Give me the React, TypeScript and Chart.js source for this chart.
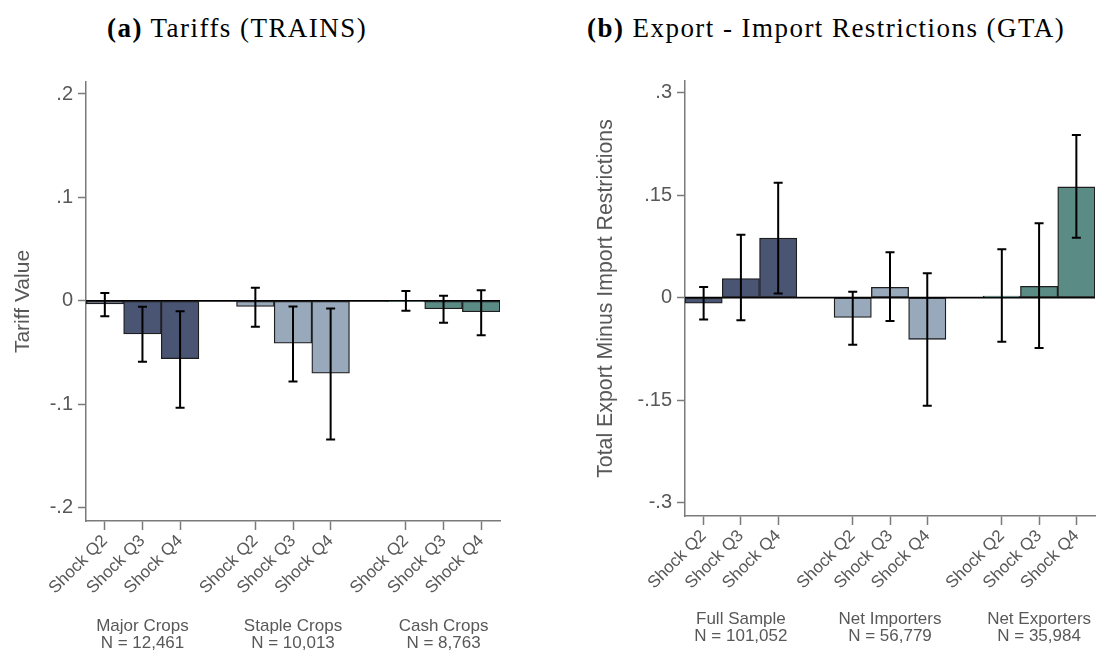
import React, { useEffect, useRef } from "react";
import { Chart, registerables } from "chart.js";
Chart.register(...registerables);

// ---------- data ----------
const shockLabels = ["Shock Q2", "Shock Q3", "Shock Q4"];
const groupColors = ["#4a5574", "#98a9bb", "#5a8b85"];

const tariffGroups = ["Major Crops", "Staple Crops", "Cash Crops"];
const tariffN = ["N = 12,461", "N = 10,013", "N = 8,763"];
const tariffCoef = [-0.003, -0.032, -0.056, -0.0055, -0.041, -0.070, -0.0008, -0.0077, -0.0106];
const tariffLow = [-0.015, -0.059, -0.1035, -0.025, -0.078, -0.134, -0.0097, -0.0213, -0.0332];
const tariffHigh = [0.0075, -0.0058, -0.010, 0.0126, -0.0055, -0.0075, 0.0094, 0.0048, 0.0103];
const tariffTicks = [-0.2, -0.1, 0, 0.1, 0.2];
const tariffTickLabels = ["-.2", "-.1", "0", ".1", ".2"];

const gtaGroups = ["Full Sample", "Net Importers", "Net Exporters"];
const gtaN = ["N = 101,052", "N = 56,779", "N = 35,984"];
const gtaCoef = [-0.008, 0.028, 0.087, -0.029, 0.015, -0.061, 0.0024, 0.0165, 0.162];
const gtaLow = [-0.032, -0.033, 0.006, -0.069, -0.034, -0.158, -0.0644, -0.0737, 0.0878];
const gtaHigh = [0.0155, 0.092, 0.168, 0.0088, 0.0663, 0.0356, 0.0707, 0.1087, 0.238];
const gtaTicks = [-0.3, -0.15, 0, 0.15, 0.3];
const gtaTickLabels = ["-.3", "-.15", "0", ".15", ".3"];

// ---------- helpers ----------
const SANS = "'Liberation Sans', Arial, Helvetica, sans-serif";
const TEXT = "#585858";
const AXIS = "#7a7a7a";

function spread<T>(vals: T[], gap: T): T[] {
  const out: T[] = [];
  for (let g = 0; g < 3; g++) {
    for (let k = 0; k < 3; k++) out.push(vals[g * 3 + k]);
    if (g < 2) out.push(gap);
  }
  return out;
}

function buildConfig(p: any) {
  const labels = spread([...shockLabels, ...shockLabels, ...shockLabels], "");
  const values = spread(p.coef, null);
  const low = spread(p.low, null);
  const high = spread(p.high, null);
  const colors = spread(
    [0, 0, 0, 1, 1, 1, 2, 2, 2].map((g) => groupColors[g]),
    "rgba(0,0,0,0)"
  );
  const groupRow: any[] = [];
  for (let g = 0; g < 3; g++) {
    groupRow.push("", [p.groups[g], p.ns[g]], "");
    if (g < 2) groupRow.push("");
  }

  const errorPlugin = {
    id: "errorBarsZero",
    beforeDatasetsDraw(chart: any) {
      const { ctx, chartArea, scales } = chart;
      const y0 = scales.y.getPixelForValue(0);
      ctx.save();
      ctx.strokeStyle = "#000";
      ctx.lineWidth = 1.8;
      ctx.beginPath();
      ctx.moveTo(chartArea.left, y0);
      ctx.lineTo(chartArea.right, y0);
      ctx.stroke();
      ctx.restore();
    },
    afterDatasetsDraw(chart: any) {
      const { ctx, scales } = chart;
      ctx.save();
      ctx.strokeStyle = "#000";
      ctx.lineWidth = 2;
      for (let i = 0; i < low.length; i++) {
        if (low[i] === null) continue;
        const x = scales.x.getPixelForValue(i);
        const yl = scales.y.getPixelForValue(low[i]);
        const yh = scales.y.getPixelForValue(high[i]);
        ctx.beginPath();
        ctx.moveTo(x, yl);
        ctx.lineTo(x, yh);
        ctx.moveTo(x - 4.5, yl);
        ctx.lineTo(x + 4.5, yl);
        ctx.moveTo(x - 4.5, yh);
        ctx.lineTo(x + 4.5, yh);
        ctx.stroke();
      }
      ctx.restore();
    },
  };

  return {
    type: "bar",
    data: {
      labels,
      datasets: [
        {
          data: values,
          backgroundColor: colors,
          borderColor: "#1e1e1e",
          borderWidth: 1.3,
          borderSkipped: false,
          barPercentage: 1,
          categoryPercentage: 1,
        },
      ],
    },
    options: {
      animation: false,
      responsive: false,
      maintainAspectRatio: false,
      layout: { padding: { top: p.padTop, right: p.padRight, bottom: 0, left: 0 } },
      plugins: {
        legend: { display: false },
        tooltip: { enabled: false },
        title: { display: false },
      },
      scales: {
        x: {
          type: "category",
          offset: true,
          weight: 0,
          grid: {
            display: true,
            offset: false,
            drawOnChartArea: false,
            drawTicks: true,
            tickLength: 9,
            tickWidth: 1.5,
            tickColor: (c: any) => (labels[c.index] ? AXIS : "rgba(0,0,0,0)"),
          },
          border: { display: true, color: AXIS, width: 1.5 },
          ticks: {
            autoSkip: false,
            maxRotation: 45,
            minRotation: 45,
            padding: 1,
            color: TEXT,
            font: { family: SANS, size: 17 },
          },
          afterFit: (s: any) => {
            s.height = p.xH;
          },
        },
        x2: {
          type: "category",
          labels: groupRow,
          offset: true,
          position: "bottom",
          weight: 1,
          grid: { display: false, drawTicks: false },
          border: { display: false },
          ticks: {
            autoSkip: false,
            maxRotation: 0,
            minRotation: 0,
            padding: p.groupPad,
            color: TEXT,
            font: { family: SANS, size: 17, lineHeight: 1.05 },
          },
          afterFit: (s: any) => {
            s.height = p.x2H;
          },
        },
        y: {
          min: p.min,
          max: p.max,
          afterBuildTicks: (s: any) => {
            s.ticks = p.ticks.map((v: number) => ({ value: v }));
          },
          grid: {
            display: true,
            drawOnChartArea: false,
            drawTicks: true,
            tickLength: 8,
            tickWidth: 1.5,
            tickColor: AXIS,
          },
          border: { display: true, color: AXIS, width: 1.5 },
          ticks: {
            padding: 5,
            color: TEXT,
            font: { family: SANS, size: 20 },
            callback: (_v: any, i: number) => p.tickLabels[i],
          },
          title: {
            display: true,
            text: p.yTitle,
            color: TEXT,
            font: { family: SANS, size: p.yTitleSize },
            padding: { top: p.yTitlePad, bottom: 0 },
          },
          afterFit: (s: any) => {
            s.width = p.yW;
          },
        },
      },
    },
    plugins: [errorPlugin],
  };
}

function BarPanel(props: { cfg: any; left: number; width: number }) {
  const ref = useRef<HTMLCanvasElement | null>(null);
  useEffect(() => {
    if (!ref.current) return;
    const chart = new Chart(ref.current, buildConfig(props.cfg) as any);
    return () => chart.destroy();
  }, []);
  return (
    <canvas
      ref={ref}
      width={props.width}
      height={651}
      style={{ position: "absolute", left: props.left, top: 0, width: props.width, height: 651 }}
    />
  );
}

const titleStyle: React.CSSProperties = {
  position: "absolute",
  top: 13,
  height: 30,
  lineHeight: "30px",
  fontFamily: "'Liberation Serif', 'Times New Roman', serif",
  fontSize: 27,
  letterSpacing: "1.45px",
  color: "#000",
  whiteSpace: "nowrap",
};

export default function App() {
  const leftCfg = {
    coef: tariffCoef,
    low: tariffLow,
    high: tariffHigh,
    groups: tariffGroups,
    ns: tariffN,
    ticks: tariffTicks,
    tickLabels: tariffTickLabels,
    min: -0.2129,
    max: 0.2116,
    yTitle: "Tariff Value",
    yTitleSize: 21,
    yTitlePad: 10.5,
    yW: 86,
    padTop: 82,
    padRight: 50,
    xH: 75,
    x2H: 55,
    groupPad: 21,
  };
  const rightCfg = {
    coef: gtaCoef,
    low: gtaLow,
    high: gtaHigh,
    groups: gtaGroups,
    ns: gtaN,
    ticks: gtaTicks,
    tickLabels: gtaTickLabels,
    min: -0.3195,
    max: 0.317,
    yTitle: "Total Export Minus Import Restrictions",
    yTitleSize: 21.3,
    yTitlePad: 43,
    yW: 135,
    padTop: 81,
    padRight: 10,
    xH: 75,
    x2H: 60,
    groupPad: 19,
  };
  return (
    <div style={{ position: "absolute", left: 0, top: 0, width: 1105, height: 651, background: "#fff" }}>
      <div style={{ ...titleStyle, left: 107 }}>
        <b>(a)</b> Tariffs (TRAINS)
      </div>
      <div style={{ ...titleStyle, left: 587 }}>
        <b>(b)</b> Export - Import Restrictions (GTA)
      </div>
      <BarPanel cfg={leftCfg} left={0} width={550} />
      <BarPanel cfg={rightCfg} left={550} width={555} />
    </div>
  );
}
